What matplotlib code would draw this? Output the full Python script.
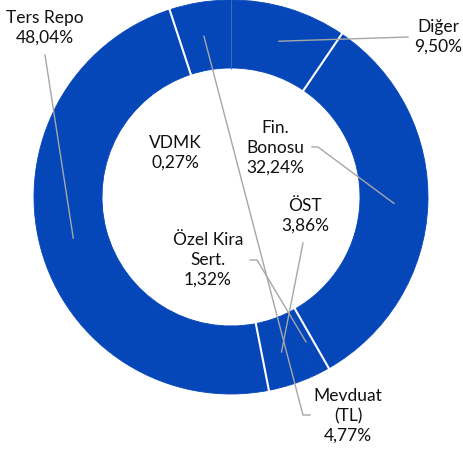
import numpy as np
import matplotlib.pyplot as plt

# Data (clockwise from the top)
labels = ['Diğer', 'Fin.\nBonosu', 'Özel Kira\nSert.', 'ÖST', 'Ters Repo', 'Mevduat\n(TL)', 'VDMK']
values = [9.50, 32.24, 1.32, 3.86, 48.04, 4.77, 0.27]

W, H = 463, 457
blue = '#0547B9'
line_col = '#A6A6A6'

# ring geometry in pixel units (y up)
cx, cy = 231, H - 197
R, r_in = 197, 129
rm = (R + r_in) / 2

# label centres and leader-line anchors (pixels, y measured from top)
label_pos = [(438, 37), (275, 148), (208, 260), (305, 216), (45, 28), (348, 416), (175, 153)]
anchors = [
    [(408, 37)],
    [(312, 147), (318, 147)],
    [(250, 260), (257, 260)],
    [(303, 243)],
    [(45, 55)],
    [(310, 415), (303, 415)],
    None,
]
# separator drawn at the clockwise start of each slice
sep_style = [('#3D6FC6', 0.7), ('white', 1.5), ('white', 1.5), None,
             ('white', 1.5), ('white', 1.5), None]

plt.rcParams['font.family'] = ['Lato', 'DejaVu Sans']

fig = plt.figure(figsize=(W / 100, H / 100), dpi=100)
ax = fig.add_axes([0, 0, 1, 1])

wedges, _ = ax.pie(values, radius=R, center=(cx, cy), startangle=90, counterclock=False,
                   colors=[blue] * len(values),
                   wedgeprops=dict(width=R - r_in, edgecolor=blue, linewidth=0.6))

for w, st in zip(wedges, sep_style):
    if st is None:
        continue
    a = np.deg2rad(w.theta2)
    ax.plot([cx + (r_in - 1) * np.cos(a), cx + (R + 1) * np.cos(a)],
            [cy + (r_in - 1) * np.sin(a), cy + (R + 1) * np.sin(a)],
            color=st[0], lw=st[1], zorder=2, solid_capstyle='butt')

for w, lab, v, pos, anc in zip(wedges, labels, values, label_pos, anchors):
    txt = lab + '\n' + f'{v:.2f}'.replace('.', ',') + '%'
    ax.text(pos[0], H - pos[1], txt, ha='center', va='center', fontsize=12.5,
            linespacing=1.3, color='#111111')
    if anc is None:
        continue
    a = np.deg2rad((w.theta1 + w.theta2) / 2)
    px, py = cx + rm * np.cos(a), cy + rm * np.sin(a)
    xs = [p[0] for p in anc] + [px]
    ys = [H - p[1] for p in anc] + [py]
    ax.plot(xs, ys, color=line_col, lw=1, zorder=3)

ax.set_xlim(0, W)
ax.set_ylim(0, H)
ax.set_aspect('equal')
ax.axis('off')

plt.savefig('out.png', dpi=100)
